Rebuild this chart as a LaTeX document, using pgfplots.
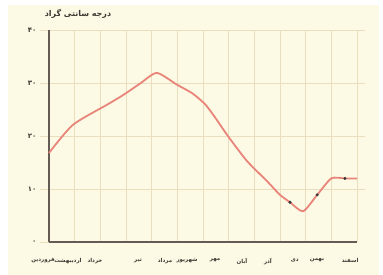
\documentclass[border=0pt]{standalone}
\usepackage{pgfplots}
\pgfplotsset{compat=1.18}
\usepackage{fontspec}
\setmainfont{DejaVu Sans}
\newfontfamily\fa[Script=Arabic]{DejaVu Sans}
\TeXXeTstate=1
\definecolor{bg}{RGB}{252,250,228}
\definecolor{gridc}{RGB}{234,222,190}
\definecolor{curve}{RGB}{233,132,122}
\definecolor{axc}{RGB}{100,92,84}
\definecolor{txt}{RGB}{60,55,50}
\newcommand{\R}[1]{{\fa\bfseries\beginR #1\endR}}
\begin{document}
\begin{tikzpicture}
\useasboundingbox (0,0) rectangle (383bp,275bp);
\fill[white] (0,0) rectangle (383bp,275bp);
\fill[bg] (8bp,0) rectangle (379bp,270bp);
\begin{axis}[
  at={(49bp,33bp)}, anchor=south west,
  scale only axis, width=308bp, height=212bp,
  xmin=0, xmax=12, ymin=0, ymax=40,
  axis lines*=left,
  axis line style={draw=axc, line width=2.2pt},
  xtick={0,0.74,1.79,3.47,4.52,5.38,6.47,7.52,8.53,9.58,10.44,11.73},
  xticklabels={\hspace*{-12bp}\R{فروردین},\R{اردیبهشت},\R{خرداد},\R{تیر},\R{مرداد},\R{شهریور},\R{مهر},\R{آبان},\R{آذر},\R{دی},\R{بهمن},\R{اسفند}},
  x tick style={draw=none},
  minor xtick={1,...,12},
  xminorgrids,
  minor grid style={draw=gridc, line width=1pt},
  ytick={0,10,20,30,40},
  yticklabels={{\fa\bfseries ۰},{\fa\bfseries ۱۰},{\fa\bfseries ۲۰},{\fa\bfseries ۳۰},{\fa\bfseries ۴۰}},
  ymajorgrids,
  major grid style={draw=gridc, line width=1pt},
  y tick style={draw=gridc, line width=1pt},
  tick align=outside, major tick length=9bp,
  xticklabel style={font=\fontsize{5.5}{7}\selectfont, text=txt, yshift=-4bp},
  yticklabel style={font=\fontsize{7}{8}\selectfont, text=txt},
  clip=false,
]
\foreach \yy in {10,20,30,40} {\edef\tmp{\noexpand\draw[gridc, line width=1pt] (axis cs:12,\yy) -- ++(8bp,0);}\tmp}
\addplot[curve, line width=1.8pt, smooth, tension=0.4] coordinates {
(0,16.8) (0.93,22.1) (2.26,25.9) (2.88,27.7) (3.55,29.9) (4.2,31.9) (4.98,29.7) (5.6,28.0) (6.1,25.9) (6.5,23.3) (6.97,20.0) (7.71,15.3) (8.49,11.5) (9.0,8.9) (9.39,7.5) (9.9,5.8) (10.45,8.9) (11.0,12.0) (11.53,12.0) (12,12.0)
};
\addplot[only marks, mark=*, mark size=1.3pt, black!80] coordinates {(9.39,7.5) (10.45,8.9) (11.53,12.0)};
\node[font=\fontsize{8}{9}\selectfont, text=txt] at (axis description cs:0.094,1.075) {\R{درجه سانتی گراد}};
\end{axis}
\end{tikzpicture}
\end{document}
